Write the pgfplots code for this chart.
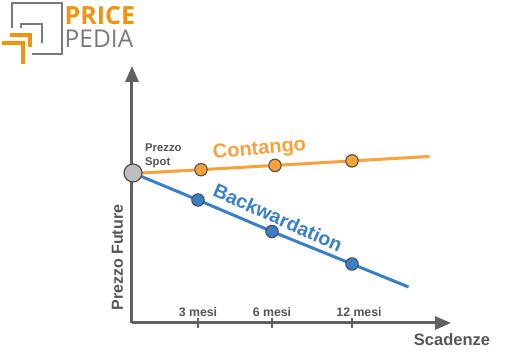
\documentclass[border=0pt]{standalone}
\usepackage{fontspec}
\setmainfont{Liberation Sans}
\newfontfamily\logofont{Open Sans}
\usepackage{pgfplots}
\pgfplotsset{compat=1.18}
\usetikzlibrary{arrows.meta}
\definecolor{axgray}{HTML}{606060}
\definecolor{txtgray}{HTML}{555555}
\definecolor{corange}{HTML}{F9A23B}
\definecolor{cblue}{HTML}{3B80C6}
\definecolor{spotgray}{HTML}{BDBDBD}
\definecolor{edgegray}{HTML}{505050}
\definecolor{logogray}{HTML}{7A7A7A}
\definecolor{logoorange}{HTML}{F0930E}
\pgfplotsset{every non boxed x axis/.style={}, every non boxed y axis/.style={}}
\begin{document}
\begin{tikzpicture}
\begin{axis}[
  scale only axis, width=319pt, height=257pt,
  xmin=132, xmax=451, ymin=32, ymax=289,
  enlargelimits=false, clip=false,
  axis lines=left,
  axis line style={draw=axgray, line width=3pt, -{Triangle[length=16pt,width=13pt]}},
  xtick={198,272,352},
  xticklabels={3 mesi,6 mesi,\hspace*{14pt}12 mesi},
  ytick=\empty,
  major tick length=10pt, tick align=center,
  x tick style={draw=axgray, line width=1.5pt},
  xticklabel style={anchor=south, yshift=8pt, text=txtgray, font=\bfseries\fontsize{12.3}{14}\selectfont},
  xlabel={Scadenze}, ylabel={Prezzo Future},
  every axis x label/.style={at={(axis description cs:1.0031,-0.0661)}, anchor=center, text=txtgray, font=\bfseries\fontsize{16.5}{19}\selectfont},
  every axis y label/.style={at={(axis description cs:-0.0455,0.2541)}, anchor=center, rotate=90, text=txtgray, font=\bfseries\fontsize{16}{19}\selectfont},
]
\path (axis cs:0,0) rectangle (axis cs:526,355);
\coordinate (O) at (axis cs:0,355);
% Contango line
\addplot[corange, line width=3pt, no markers] coordinates {(133,181.5) (201,185.3) (275,189.6) (352,194.1) (429.5,198.5)};
% Backwardation line
\addplot[cblue, line width=3pt, no markers] coordinates {(133,182) (198,155) (272,123.5) (352,91) (408.5,68)};
% markers
\addplot[only marks, mark=*, mark size=6.2pt, mark options={fill=corange, draw=edgegray, line width=1.1pt}] coordinates {(201,185.3) (275,189.6) (352,194.1)};
\addplot[only marks, mark=*, mark size=6.2pt, mark options={fill=cblue, draw=edgegray, line width=1.1pt}] coordinates {(198,155) (272,123.5) (352,91)};
\addplot[only marks, mark=*, mark size=9pt, mark options={fill=spotgray, draw=edgegray, line width=1.2pt}] coordinates {(133,182)};
\node[rotate=5, text=corange, font=\bfseries\fontsize{20}{24}\selectfont] at (axis cs:259.5,205) {Contango};
\node[rotate=-24, text=cblue, font=\bfseries\fontsize{19.5}{24}\selectfont] at (axis cs:278,137.5) {Backwardation};
\node[anchor=west, align=left, inner sep=0pt, text=txtgray, font=\bfseries\fontsize{11.3}{14}\selectfont] at (axis cs:145,199.5) {Prezzo\\Spot};
\end{axis}
\begin{scope}[shift={(O)}, x=1pt, y=-1pt]
\draw[logogray, line width=2pt] (12,28) -- (12,3) -- (62,3) -- (62,54) -- (32,54);
\draw[logogray, line width=2pt] (21,28) -- (21,24) -- (42,24) -- (42,43);
\draw[logoorange, line width=4pt] (10,35.3) -- (30.3,35.3) -- (30.3,46.7);
\draw[logoorange, line width=4pt] (2,43) -- (23,43) -- (23,64);
\node[anchor=base west, inner sep=0pt, text=logoorange, font=\logofont\bfseries\fontsize{25}{28}\selectfont] at (64.5,25) {PRICE};
\node[anchor=base west, inner sep=0pt, text=logogray, font=\logofont\fontsize{24.5}{28}\selectfont] at (64.5,47.7) {PEDIA};
\end{scope}
\end{tikzpicture}
\end{document}
